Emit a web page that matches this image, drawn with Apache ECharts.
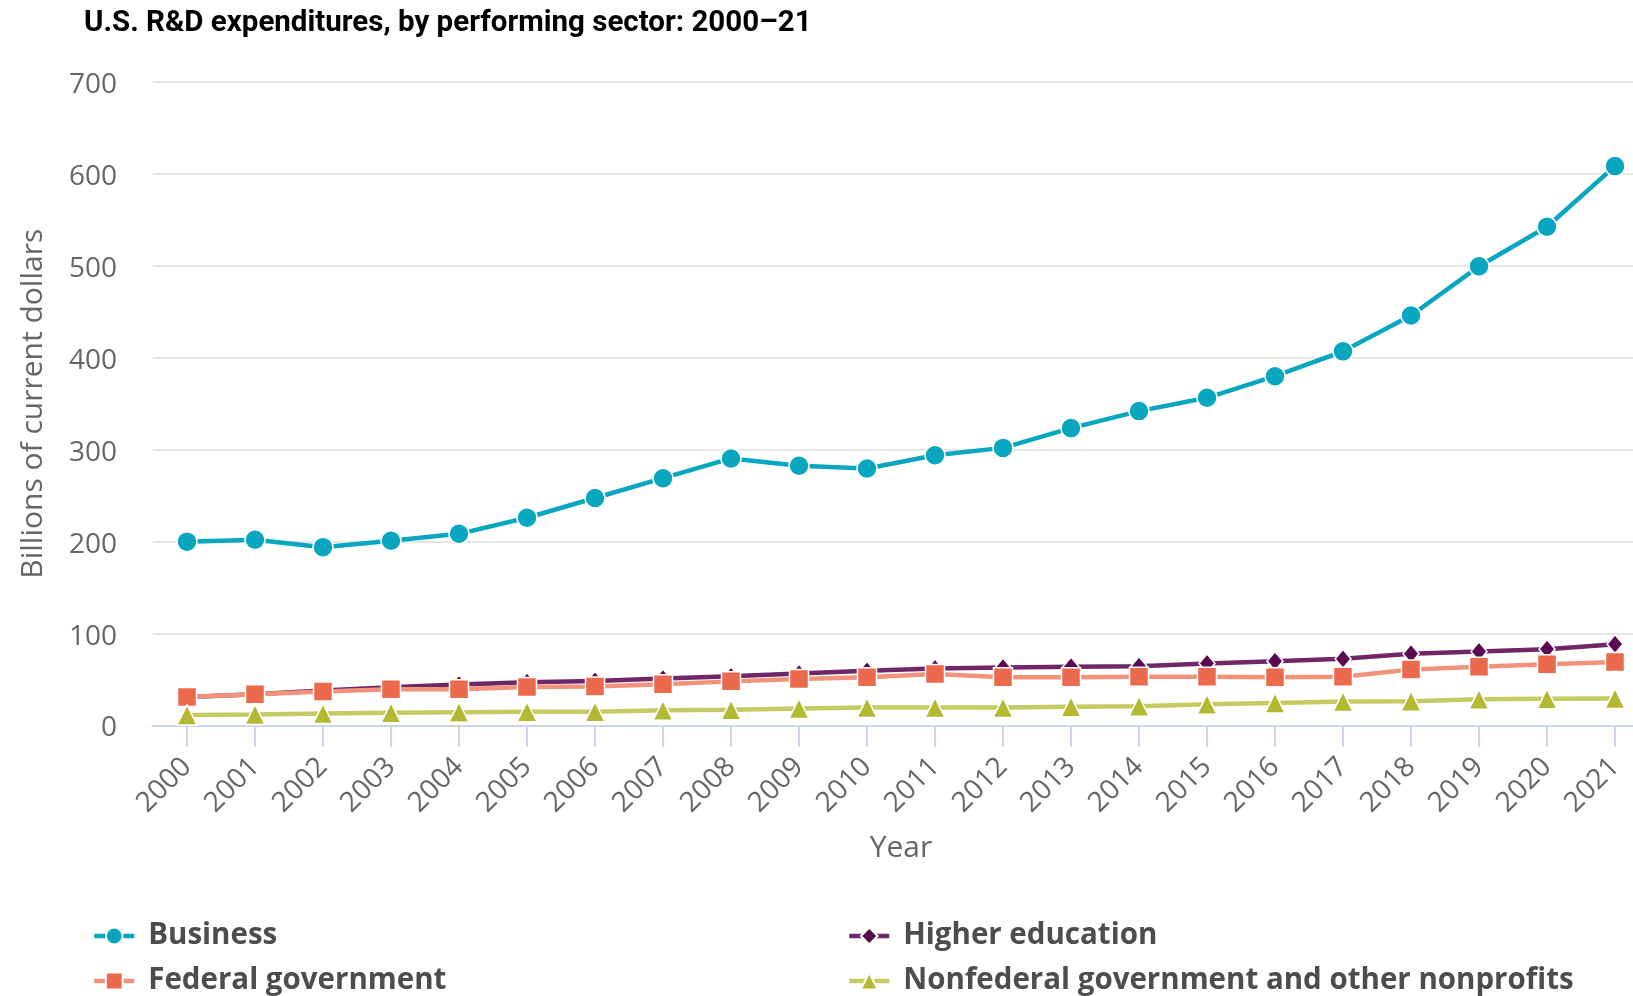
<!DOCTYPE html>
<html>
<head>
<meta charset="utf-8">
<script src="https://cdn.jsdelivr.net/npm/echarts@6/dist/echarts.min.js"></script>
<style>
  html, body { margin: 0; padding: 0; background: #ffffff; overflow: hidden; }
  #chart { width: 1649px; height: 996px; }
</style>
</head>
<body>
<div id="chart"></div>
<script>
// U.S. R&D expenditures by performing sector, billions of current dollars
const years = ['2000','2001','2002','2003','2004','2005','2006','2007','2008','2009','2010',
               '2011','2012','2013','2014','2015','2016','2017','2018','2019','2020','2021'];
const business = [200, 202, 194, 201, 208.5, 226, 247.5, 269, 290.5, 282.5, 279.5,
                  294, 302, 323.5, 342, 356.5, 380, 407, 446, 499.5, 542.5, 608.5];
const higherEducation = [31, 34, 38, 41.5, 44.5, 47, 48.5, 51, 53.5, 56.5, 59.5,
                         62, 63, 64, 64.5, 67.5, 70, 72.5, 78, 80.5, 83, 88.5];
const federalGovernment = [31, 34, 37, 39.5, 39.5, 42, 42.5, 45, 48, 50.5, 52.5,
                           56, 52.5, 52.5, 53, 53, 52.5, 53, 61, 64, 66.5, 69];
const nonfederal = [11.5, 12, 13, 14, 14.5, 15, 15, 16.5, 17, 18.5, 19.5,
                    19.5, 19.5, 20.5, 21, 23, 24.5, 26, 26.5, 28.5, 29, 29.5];
const yTicks = { min: 0, max: 700, interval: 100 };

const names = {
  business: 'Business',
  higher: 'Higher education',
  federal: 'Federal government',
  nonfed: 'Nonfederal government and other nonprofits'
};

const axisGrey = '#666666';
const baseFont = 'Open Sans';

function lineSeries(name, data, symbol, size, markerColor, lineColor) {
  return {
    name: name,
    type: 'line',
    data: data,
    symbol: symbol,
    symbolSize: size,
    showSymbol: true,
    lineStyle: { width: 4.5, color: lineColor },
    itemStyle: { color: markerColor, borderColor: '#ffffff', borderWidth: 1.5 },
    emphasis: { disabled: true },
    animation: false
  };
}

function legendItem(name, left, top) {
  return {
    data: [name],
    left: left,
    top: top,
    padding: 0,
    itemWidth: 40,
    itemHeight: 21,
    selectedMode: false,
    lineStyle: { width: 4.5 },
    textStyle: {
      fontFamily: baseFont,
      fontWeight: 'bold',
      fontSize: 29.5,
      color: '#4d4d4d',
      padding: [0, 0, 0, 9]
    }
  };
}

const chart = echarts.init(document.getElementById('chart'), null, { renderer: 'canvas' });

chart.setOption({
  backgroundColor: '#ffffff',
  title: {
    text: 'U.S. R&D expenditures, by performing sector: 2000\u201321',
    left: 79,
    top: 4,
    textStyle: {
      fontFamily: 'Roboto',
      fontWeight: 'bold',
      fontSize: 29.5,
      color: '#000000'
    }
  },
  grid: { left: 153, right: 0, top: 82, bottom: 270.5, containLabel: false },
  legend: [
    legendItem(names.business, 92, 921),
    legendItem(names.federal, 92, 966),
    legendItem(names.higher, 847, 921),
    legendItem(names.nonfed, 847, 966)
  ],
  xAxis: {
    type: 'category',
    data: years,
    boundaryGap: true,
    name: 'Year',
    nameLocation: 'middle',
    nameGap: 108,
    nameTextStyle: { fontFamily: baseFont, fontSize: 30, color: axisGrey },
    axisLine: { show: true, lineStyle: { color: '#ccd6eb', width: 2 } },
    axisTick: { show: true, alignWithLabel: true, length: 21, lineStyle: { color: '#ccd6eb', width: 2 } },
    axisLabel: {
      rotate: 45,
      margin: 37,
      fontFamily: baseFont,
      fontSize: 28,
      color: axisGrey
    },
    splitLine: { show: false }
  },
  yAxis: {
    type: 'value',
    min: yTicks.min,
    max: yTicks.max,
    interval: yTicks.interval,
    name: 'Billions of current dollars',
    nameLocation: 'middle',
    nameGap: 105,
    nameTextStyle: { fontFamily: baseFont, fontSize: 30, color: axisGrey },
    axisLine: { show: false },
    axisTick: { show: false },
    axisLabel: {
      margin: 36,
      verticalAlign: 'top',
      lineHeight: 6,
      fontFamily: baseFont,
      fontSize: 28,
      color: axisGrey
    },
    splitLine: { show: true, lineStyle: { color: '#e6e6e6', width: 2 } }
  },
  series: [
    lineSeries(names.business, business, 'circle', 20, '#08a6bf', '#08a6bf'),
    lineSeries(names.higher, higherEducation, 'diamond', [16, 19], '#5b0a52', '#6f2767'),
    lineSeries(names.federal, federalGovernment, 'rect', 19, '#eb694c', '#f2927b'),
    lineSeries(names.nonfed, nonfederal, 'triangle', 20, '#b3ba32', '#c5cb62')
  ]
});
</script>
</body>
</html>
